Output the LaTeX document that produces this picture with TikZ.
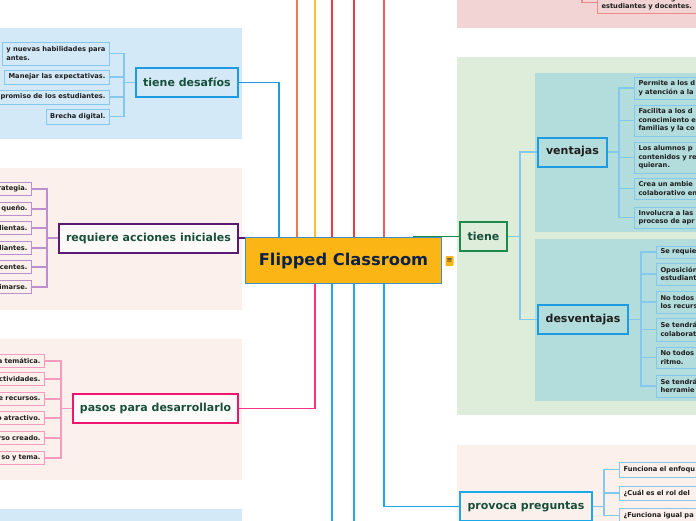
\documentclass[tikz,border=0pt]{standalone}
\usepackage{fontspec}
\setmainfont{DejaVu Sans}
\usetikzlibrary{positioning, arrows.meta, calc}
\definecolor{PanelBlue}{HTML}{D4E9F7}
\definecolor{PanelPink}{HTML}{FBF0EC}
\definecolor{PanelGreen}{HTML}{DDEDD9}
\definecolor{PanelTeal}{HTML}{B3DCDC}
\definecolor{PanelRose}{HTML}{F2D4D4}
\definecolor{CoreGold}{HTML}{FBB615}
\definecolor{CoreEdge}{HTML}{3C8FCB}
\definecolor{CoreText}{HTML}{0E2147}
\definecolor{TopicText}{HTML}{174F3B}
\definecolor{LeafText}{HTML}{1E1E1E}
\definecolor{SkyBlue}{HTML}{1E9BE0}
\definecolor{SkyLight}{HTML}{85C8EE}
\definecolor{PlumDark}{HTML}{5B1A72}
\definecolor{PlumLight}{HTML}{BD8FCF}
\definecolor{HotPink}{HTML}{F0156F}
\definecolor{PinkLight}{HTML}{F69BC0}
\definecolor{LeafGreen}{HTML}{1D8A4C}
\definecolor{Coral}{HTML}{F4764E}
\definecolor{Amber}{HTML}{FBC02D}
\definecolor{Scarlet}{HTML}{EE3B43}
\definecolor{Crimson}{HTML}{E83D45}
\definecolor{Salmon}{HTML}{EF5A64}
\definecolor{RoseEdge}{HTML}{F08A8A}
\definecolor{Magenta}{HTML}{F7338A}
\definecolor{Cyan}{HTML}{1BA8E8}
\definecolor{DownBlue}{HTML}{2AA6E8}
\tikzset{
  topic/.style={line width=2pt, minimum height=29pt, inner sep=0pt,
    font=\fontsize{11}{13}\selectfont\bfseries, text=TopicText},
  leaf/.style={line width=1pt, inner xsep=4pt, inner ysep=0pt,
    font=\fontsize{6.7}{8.6}\selectfont\bfseries, text=LeafText},
  leafL/.style={leaf, anchor=east, align=right, text width=80pt},
  leafR/.style={leaf, anchor=west, align=left, text width=100pt},
  brk/.style={line width=1.3pt},
  trunk/.style={line width=1.8pt},
}
\begin{document}
\begin{tikzpicture}[x=1pt, y=-1pt, >=Stealth]
\useasboundingbox (0,0) rectangle (696,520);
\clip (0,0) rectangle (696,520);
% panels
\fill[PanelBlue] (0,28) rectangle (242,139);
\fill[PanelPink] (0,168) rectangle (242,310);
\fill[PanelPink] (0,339) rectangle (242,480);
\fill[PanelBlue] (0,509) rectangle (242,530);
\fill[PanelRose] (457,-10) rectangle (700,28);
\fill[PanelGreen] (457,57) rectangle (700,415);
\fill[PanelTeal] (535,73) rectangle (700,232);
\fill[PanelTeal] (535,239) rectangle (700,401);
\fill[PanelPink] (457,445) rectangle (700,530);

% centre
\node[draw=CoreEdge, line width=1.5pt, fill=CoreGold, minimum width=196pt, minimum height=46pt,
  font=\fontsize{16.3}{18}\selectfont\bfseries, text=CoreText] (core) at (343.5,260.5) {Flipped Classroom};
\node[fill=CoreGold, rounded corners=1pt, inner sep=0pt, minimum width=8pt, minimum height=10pt,
  font=\fontsize{7}{7}\selectfont, text=CoreText] (note) at (449.5,261) {≡};

% lines leaving the top
\foreach \dx/\col in {52/Coral, 70/Amber, 87/Scarlet, 109/Crimson, 139/Salmon}
  \draw[trunk, \col] ([xshift=\dx pt]core.north west) -- ++(0,-260);
% lines leaving the bottom
\foreach \dx in {87, 109}
  \draw[trunk, DownBlue] ([xshift=\dx pt]core.south west) -- ++(0,260);

% tiene desafios
\node[topic, draw=SkyBlue, fill=PanelBlue, minimum width=102pt] (des) at (187,82.5) {tiene desafíos};
\draw[trunk, SkyBlue] (des.east) -| ([xshift=34pt]core.north west);
\foreach \i/\y/\h/\txt in {1/53.5/23/{y nuevas habilidades para\\antes.}, 2/77/14/{Manejar las expectativas.},
    3/97/14/{promiso de los estudiantes.}, 4/116.5/15/{Brecha digital.}} {
  \node[leaf, anchor=east, align=left, draw=SkyLight, fill=PanelBlue, minimum height=\h pt] (d\i) at (110,\y) {\txt};
  \draw[brk, SkyLight] (des.west) -- ++(-11,0) |- (d\i.east);
}

% requiere acciones iniciales
\node[topic, draw=PlumDark, fill=white!70!PanelPink, minimum width=179pt] (req) at (148.5,238) {requiere acciones iniciales};
\draw[trunk, PlumDark] (req.east) -- (req.east -| core.west);
\foreach \i/\y/\txt in {1/189/rategia., 2/209/queño., 3/228/lientas., 4/248/liantes., 5/267/centes., 6/287/imarse.} {
  \node[leafL, draw=PlumLight, fill=PanelPink, minimum height=13pt] (r\i) at (32,\y) {\txt};
  \draw[brk, PlumLight] (req.west) -- ++(-11,0) |- (r\i.east);
}

% pasos para desarrollarlo
\node[topic, draw=HotPink, fill=white!70!PanelPink, minimum width=165pt] (pas) at (155.5,408.5) {pasos para desarrollarlo};
\draw[trunk, Magenta] (pas.east) -| ([xshift=70pt]core.south west);
\foreach \i/\y/\txt in {1/361/a temática., 2/379/ctividades., 3/399/e recursos., 4/418/o atractivo., 5/438/rso creado., 6/458/so y tema.} {
  \node[leafL, draw=PinkLight, fill=PanelPink, minimum height=13pt] (p\i) at (45,\y) {\txt};
  \draw[brk, PinkLight] (pas.west) -- ++(-11,0) |- (p\i.east);
}

% tiene
\node[topic, draw=LeafGreen, fill=PanelGreen, minimum width=47pt] (tie) at (483.5,236.5) {tiene};
\draw[trunk, LeafGreen] (tie.west) -- ++(-46,0);
\node[topic, draw=SkyBlue, fill=PanelTeal, minimum width=69pt, text=LeafText] (ven) at (572.5,152) {ventajas};
\node[topic, draw=SkyBlue, fill=PanelTeal, minimum width=90pt, text=LeafText] (dsv) at (583,319.5) {desventajas};
\foreach \t in {ven, dsv}
  \draw[brk, SkyLight] (tie.east) -- ++(12,0) |- (\t.west);
\foreach \i/\y/\h/\txt in {1/88/22/{Permite a los d\\y atención a la}, 2/120.5/31/{Facilita a los d\\conocimiento e\\familias y la co},
    3/157.5/31/{Los alumnos p\\contenidos y re\\quieran.}, 4/188.5/21/{Crea un ambie\\colaborativo en},
    5/217.5/21/{Involucra a las\\proceso de apr}} {
  \node[leafR, draw=SkyLight, fill=PanelTeal, minimum height=\h pt] (v\i) at (634,\y) {\txt};
  \draw[brk, SkyLight] (ven.east) -- ++(11,0) |- (v\i.west);
}
\foreach \i/\y/\h/\txt in {1/252/12/{Se requie}, 2/274/22/{Oposición\\estudiant}, 3/302/22/{No todos\\los recurs},
    4/329.5/23/{Se tendrá\\colaborat}, 5/357.5/21/{No todos\\ritmo.}, 6/386/22/{Se tendrá\\herramie}} {
  \node[leafR, draw=SkyLight, fill=PanelTeal, minimum height=\h pt] (n\i) at (656,\y) {\txt};
  \draw[brk, SkyLight] (dsv.east) -- ++(12,0) |- (n\i.west);
}

% provoca preguntas
\node[topic, draw=Cyan, fill=PanelPink, minimum width=132pt] (pro) at (526,506.5) {provoca preguntas};
\draw[trunk, Cyan] (pro.west) -| ([xshift=139pt]core.south west);
\foreach \i/\y/\h/\txt in {1/469.5/15/{Funciona el enfoqu}, 2/493/14/{¿Cuál es el rol del}, 3/515.5/15/{¿Funciona igual pa}} {
  \node[leafR, draw=SkyLight, fill=PanelPink, minimum height=\h pt] (q\i) at (619,\y) {\txt};
  \draw[brk, SkyLight] (pro.east) -- ++(11,0) |- (q\i.west);
}

% top right leaf
\node[leafR, draw=RoseEdge, fill=PanelRose, minimum height=22pt] (a1) at (597,2.5) {Aula interactiva digital\\estudiantes y docentes.};
\coordinate (atop) at (582,-20);
\draw[brk, RoseEdge] (atop) |- (a1.west);
\end{tikzpicture}
\end{document}
